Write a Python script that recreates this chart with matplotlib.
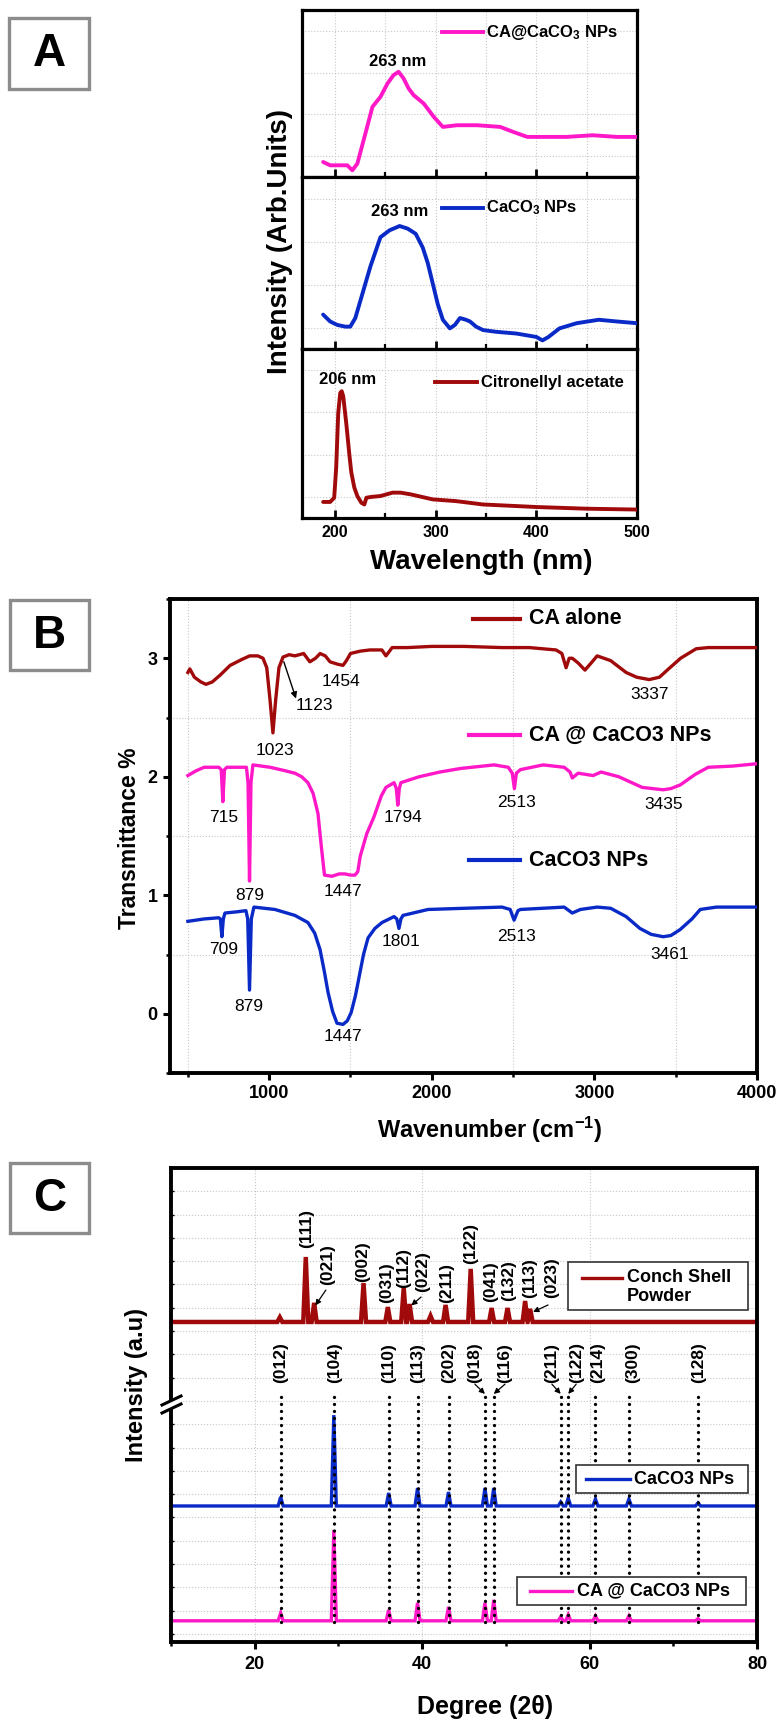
import matplotlib
matplotlib.use("Agg")
import matplotlib.pyplot as plt
from matplotlib.lines import Line2D
from matplotlib.patches import Rectangle, Polygon

plt.rcParams["font.family"] = ["Liberation Sans", "DejaVu Sans"]
plt.rcParams["mathtext.fontset"] = "custom"
plt.rcParams["mathtext.rm"] = "Liberation Sans"
plt.rcParams["mathtext.bf"] = "Liberation Sans:bold"
plt.rcParams["mathtext.it"] = "Liberation Sans:italic"

# ---------------- Panel A : UV-Vis ----------------
uv_wl_hyb = [188, 195, 205, 212, 217, 222, 230, 237, 245, 252, 258, 263, 268, 273, 278, 288, 298, 307, 321, 341,
             364, 377, 391, 410, 430, 456, 480, 500]
uv_hyb = [0.09, 0.07, 0.07, 0.07, 0.04, 0.08, 0.26, 0.42, 0.48, 0.56, 0.61, 0.63, 0.59, 0.53, 0.49, 0.44, 0.36, 0.30,
          0.31, 0.31, 0.30, 0.27, 0.24, 0.24, 0.24, 0.25, 0.24, 0.24]
uv_wl_caco3 = [188, 195, 202, 210, 215, 220, 225, 235, 245, 254, 264, 272, 280, 287, 292, 297, 302, 307, 314, 319,
               324, 330, 334, 340, 347, 360, 380, 400, 406, 412, 423, 440, 462, 480, 500]
uv_caco3 = [0.20, 0.16, 0.14, 0.13, 0.13, 0.18, 0.28, 0.48, 0.65, 0.69, 0.715, 0.70, 0.67, 0.59, 0.50, 0.38, 0.26,
            0.17, 0.12, 0.14, 0.18, 0.17, 0.16, 0.13, 0.11, 0.10, 0.09, 0.07, 0.05, 0.07, 0.12, 0.15, 0.17, 0.16, 0.15]
uv_wl_ca = [188, 195, 199, 201, 203, 205, 206.5, 208, 211, 214, 216, 219, 222, 226, 229, 231, 236, 245, 257, 265,
            275, 297, 320, 347, 400, 450, 500]
uv_ca = [0.095, 0.095, 0.12, 0.30, 0.62, 0.74, 0.75, 0.72, 0.56, 0.38, 0.27, 0.18, 0.13, 0.09, 0.08, 0.12, 0.125,
         0.13, 0.15, 0.15, 0.14, 0.11, 0.10, 0.08, 0.065, 0.055, 0.05]
uv_names = ["CA@CaCO$_\\mathbf{3}$ NPs", "CaCO$_\\mathbf{3}$ NPs", "Citronellyl acetate"]
uv_peaks = ["263 nm", "263 nm", "206 nm"]
uv_ticks = [200, 300, 400, 500]

# ---------------- Panel B : FTIR ----------------
wn_ca = [500, 512, 540, 580, 611, 650, 700, 760, 832, 880, 930, 962, 985, 1005, 1023, 1040, 1060, 1085, 1123, 1158,
         1212, 1250, 1285, 1313, 1345, 1374, 1420, 1454, 1475, 1500, 1560, 1619, 1693, 1718, 1740, 1756, 1850, 2000,
         2200, 2432, 2600, 2764, 2800, 2826, 2845, 2864, 2900, 2942, 2980, 3017, 3100, 3195, 3260, 3337, 3400, 3448,
         3530, 3626, 3700, 3800, 4000]
tr_ca = [2.88, 2.91, 2.84, 2.80, 2.78, 2.80, 2.86, 2.94, 2.99, 3.02, 3.02, 3.0, 2.92, 2.65, 2.37, 2.65, 2.92, 3.01,
         3.03, 3.02, 3.04, 2.97, 3.0, 3.04, 3.02, 2.97, 2.95, 2.94, 2.98, 3.04, 3.06, 3.07, 3.07, 3.02, 3.06, 3.09,
         3.09, 3.10, 3.10, 3.09, 3.09, 3.07, 3.04, 2.92, 3.0, 3.0, 2.96, 2.90, 2.96, 3.02, 2.98, 2.88, 2.84, 2.82,
         2.84, 2.90, 3.0, 3.08, 3.09, 3.09, 3.09]
wn_hyb = [500, 550, 600, 690, 705, 715, 725, 740, 800, 860, 870, 879, 888, 900, 1006, 1100, 1158, 1200, 1238, 1270,
          1300, 1320, 1340, 1386, 1430, 1466, 1500, 1528, 1545, 1560, 1600, 1644, 1690, 1718, 1768, 1782, 1791, 1800,
          1810, 1922, 2050, 2178, 2383, 2470, 2495, 2508, 2520, 2545, 2685, 2814, 2850, 2864, 2900, 2992, 3041, 3150,
          3294, 3423, 3470, 3527, 3620, 3700, 3850, 4000]
tr_hyb = [2.01, 2.05, 2.08, 2.08, 2.06, 1.79, 2.06, 2.08, 2.08, 2.08, 1.95, 1.12, 1.95, 2.10, 2.08, 2.05, 2.03, 2.0,
          1.95, 1.86, 1.69, 1.42, 1.17, 1.16, 1.18, 1.18, 1.17, 1.17, 1.2, 1.33, 1.52, 1.66, 1.84, 1.91, 1.95, 1.9,
          1.76, 1.9, 1.95, 2.0, 2.04, 2.07, 2.10, 2.08, 2.03, 1.90, 2.03, 2.06, 2.10, 2.08, 2.04, 1.99, 2.03, 2.01,
          2.04, 2.0, 1.91, 1.89, 1.9, 1.93, 2.02, 2.08, 2.09, 2.11]
wn_caco3 = [500, 600, 690, 700, 709, 718, 728, 800, 857, 868, 879, 890, 906, 1035, 1158, 1238, 1280, 1313, 1340,
            1362, 1390, 1417, 1454, 1480, 1504, 1530, 1553, 1580, 1608, 1650, 1694, 1768, 1785, 1798, 1810, 1823,
            1977, 2200, 2432, 2482, 2506, 2530, 2545, 2814, 2864, 2914, 3017, 3100, 3195, 3280, 3349, 3423, 3470,
            3527, 3600, 3651, 3750, 4000]
tr_caco3 = [0.78, 0.80, 0.81, 0.80, 0.65, 0.80, 0.85, 0.86, 0.87, 0.80, 0.20, 0.80, 0.90, 0.88, 0.83, 0.77, 0.68,
            0.54, 0.35, 0.18, 0.02, -0.08, -0.09, -0.06, 0.01, 0.15, 0.31, 0.50, 0.64, 0.72, 0.77, 0.82, 0.80, 0.72,
            0.80, 0.83, 0.88, 0.89, 0.90, 0.88, 0.79, 0.87, 0.88, 0.90, 0.85, 0.88, 0.90, 0.89, 0.82, 0.72, 0.67,
            0.65, 0.66, 0.71, 0.80, 0.88, 0.90, 0.90]
ir_names = ["CA alone", "CA @ CaCO3 NPs", "CaCO3 NPs"]
ir_lab_ca = ["1023", "1123", "1454", "3337"]
ir_lab_hyb = ["715", "879", "1447", "1794", "2513", "3435"]
ir_lab_caco3 = ["709", "879", "1447", "1801", "2513", "3461"]

# ---------------- Panel C : XRD ----------------
conch_base = 13.39
conch_pos = [23.0, 26.1, 27.1, 33.0, 35.9, 37.8, 38.5, 41.0, 42.8, 45.8, 48.3, 50.2, 52.3, 52.9]
conch_h = [0.2, 2.79, 0.82, 1.67, 0.64, 1.46, 0.77, 0.26, 0.73, 2.28, 0.60, 0.60, 0.90, 0.56]
conch_hkl = ["(111)", "(021)", "(002)", "(031)", "(112)", "(022)", "(211)", "(122)", "(041)", "(132)", "(113)", "(023)"]
calc_base_np = 5.49
calc_base_hyb = 0.56
calc_pos = [23.1, 29.45, 36.0, 39.45, 43.15, 47.5, 48.55, 56.55, 57.45, 60.7, 64.7, 72.95]
calc_h_np = [0.39, 3.9, 0.56, 0.77, 0.6, 0.77, 0.77, 0.17, 0.34, 0.3, 0.3, 0.13]
calc_h_hyb = [0.34, 3.9, 0.47, 0.77, 0.6, 0.77, 0.9, 0.17, 0.26, 0.21, 0.21, 0.09]
calc_hkl = ["(012)", "(104)", "(110)", "(113)", "(202)", "(018)", "(116)", "(211)", "(122)", "(214)", "(300)", "(128)"]
xrd_names = ["Conch Shell\nPowder", "CaCO3 NPs", "CA @ CaCO3 NPs"]

RED = "#A00A0A"
PINK = "#FF18C8"
BLUE = "#0A2AC8"
GRID = "#c8c8c8"

W, H = 779, 1720
fig = plt.figure(figsize=(W / 100, H / 100), dpi=100)


def px_ax(l, t, r, b):
    return fig.add_axes([l / W, 1 - b / H, (r - l) / W, (b - t) / H])


def ftext(x, y, s, **kw):
    return fig.text(x / W, 1 - y / H, s, **kw)


def fseg(xs, ys, **kw):
    fig.add_artist(Line2D([v / W for v in xs], [1 - v / H for v in ys], transform=fig.transFigure, **kw))


def fbox(l, t, r, b, **kw):
    fig.add_artist(Rectangle((l / W, 1 - b / H), (r - l) / W, (b - t) / H, transform=fig.transFigure, **kw))


# panel letter boxes
for (l, t, r, b, s) in [(9, 18, 89, 89, "A"), (10, 600, 89, 670, "B"), (10, 1163, 89, 1233, "C")]:
    fbox(l, t, r, b, fc="white", ec="#8c8c8c", lw=2.4)
    ftext((l + r) / 2, (t + b) / 2 + 1, s, fontsize=33, fontweight="bold", ha="center", va="center")

# ================= Panel A =================
A_rows = [(10, 177), (177, 349), (349, 518)]
uv_sets = [(uv_wl_hyb, uv_hyb, PINK), (uv_wl_caco3, uv_caco3, BLUE), (uv_wl_ca, uv_ca, RED)]
for k, ((t, b), (wl, iv, col)) in enumerate(zip(A_rows, uv_sets)):
    ax = px_ax(302, t, 637, b)
    ax.plot(wl, iv, color=col, lw=2.8, solid_joinstyle="round", solid_capstyle="round", zorder=3)
    ax.set_xlim(167, 500)
    ax.set_ylim(0, 1)
    ax.set_xticks(uv_ticks)
    ax.set_xticks([250, 350, 450], minor=True)
    ax.set_yticks([0.125, 0.375, 0.625, 0.875])
    ax.tick_params(axis="x", which="major", direction="in", length=6, width=2, labelsize=11.5, pad=5)
    ax.tick_params(axis="x", which="minor", direction="in", length=3.5, width=1.6)
    ax.tick_params(axis="y", length=0, labelleft=False)
    ax.grid(True, axis="x", which="both", ls=":", lw=0.8, color=GRID)
    ax.grid(True, axis="y", which="major", ls=":", lw=0.8, color=GRID)
    for sp in ax.spines.values():
        sp.set_linewidth(2.3)
    if k < 2:
        ax.tick_params(axis="x", labelbottom=False)
    else:
        ax.set_xticklabels([str(v) for v in uv_ticks], fontweight="bold")

# A legends & peak notes
for (x1, x2, y, xt), name, col in zip([(442, 483, 32, 486), (442, 483, 208, 486), (435, 477, 382, 481)],
                                      uv_names, [PINK, BLUE, RED]):
    fseg([x1, x2], [y, y], color=col, lw=2.8)
    ftext(xt, y, name, fontsize=12, fontweight="bold", va="center", ha="left")
for (x, y), s in zip([(398, 62), (400, 212), (348, 380)], uv_peaks):
    ftext(x, y, s, fontsize=12, fontweight="bold", ha="center", va="center")
ftext(280, 242, "Intensity (Arb.Units)", fontsize=20, fontweight="bold", rotation=90, ha="center", va="center")
ftext(481, 562, "Wavelength (nm)", fontsize=20, fontweight="bold", ha="center", va="center")

# ================= Panel B =================
axB = px_ax(170, 599, 757, 1073)
for wn, tr, col in [(wn_ca, tr_ca, RED), (wn_hyb, tr_hyb, PINK), (wn_caco3, tr_caco3, BLUE)]:
    axB.plot(wn, tr, color=col, lw=2.4, solid_joinstyle="round", zorder=3)
axB.set_xlim(390, 4000)
axB.set_ylim(-0.5, 3.5)
axB.set_xticks([1000, 2000, 3000, 4000])
axB.set_xticks([500, 1500, 2500, 3500], minor=True)
axB.set_yticks([0, 1, 2, 3])
axB.set_yticks([-0.5, 0.5, 1.5, 2.5, 3.5], minor=True)
axB.tick_params(which="major", direction="out", length=5, width=2.2, labelsize=13, pad=4)
axB.tick_params(which="minor", direction="out", length=3, width=1.8)
axB.grid(True, which="minor", ls=":", lw=0.8, color=GRID)
for lab in axB.get_xticklabels() + axB.get_yticklabels():
    lab.set_fontweight("bold")
for sp in axB.spines.values():
    sp.set_linewidth(2.8)

lab_kw = dict(fontsize=12.5, ha="center", va="center")
for (x, y), s in zip([(1035, 2.22), (1275, 2.60), (1443, 2.80), (3337, 2.69)], ir_lab_ca):
    axB.text(x, y, s, **lab_kw)
for (x, y), s in zip([(720, 1.66), (882, 1.00), (1454, 1.03), (1823, 1.66), (2520, 1.78), (3423, 1.77)], ir_lab_hyb):
    axB.text(x, y, s, **lab_kw)
for (x, y), s in zip([(720, 0.54), (875, 0.06), (1454, -0.19), (1810, 0.61), (2520, 0.65), (3460, 0.50)],
                     ir_lab_caco3):
    axB.text(x, y, s, **lab_kw)
axB.annotate("", xy=(1165, 2.66), xytext=(1090, 2.97),
             arrowprops=dict(arrowstyle="-|>", color="k", lw=1.0, mutation_scale=9, shrinkA=0, shrinkB=0))

for (x1, x2, y), name, col in zip([(473, 520, 619), (469, 520, 735), (469, 520, 860)], ir_names, [RED, PINK, BLUE]):
    fseg([x1, x2], [y, y], color=col, lw=3.0)
    ftext(529, y, name, fontsize=15.5, fontweight="bold", va="center", ha="left")
ftext(129, 838, "Transmittance %", fontsize=16.5, fontweight="bold", rotation=90, ha="center", va="center")
ftext(490, 1130, "Wavenumber (cm$^{\\mathbf{-1}}$)", fontsize=17, fontweight="bold", ha="center", va="center")

# ================= Panel C =================
axC = px_ax(171, 1168, 757, 1642)


def xrd_trace(base, pos, hts, hw=0.3):
    xs, ys = [10.0], [base]
    for p, h in sorted(zip(pos, hts)):
        xs += [p - hw, p, p + hw]
        ys += [base, base + h, base]
    xs.append(80.0)
    ys.append(base)
    return xs, ys


for base, pos, hts, col, lw in [(conch_base, conch_pos, conch_h, RED, 3.2),
                                (calc_base_np, calc_pos, calc_h_np, BLUE, 2.4),
                                (calc_base_hyb, calc_pos, calc_h_hyb, PINK, 2.4)]:
    xs, ys = xrd_trace(base, pos, hts)
    axC.plot(xs, ys, color=col, lw=lw, solid_joinstyle="miter", zorder=2)

vl = axC.vlines(calc_pos, 0.5, 10.34, colors="k", linestyles=(0, (0.01, 2.1)), lw=2.4, zorder=4)
vl.set_capstyle("round")

calc_label_x = [23.1, 29.6, 36.0, 39.5, 43.2, 46.3, 49.9, 55.5, 58.4, 61.0, 65.1, 73.0]
for x, s in zip(calc_label_x, calc_hkl):
    axC.text(x, 11.63, s, rotation=90, fontsize=12.5, fontweight="bold", ha="center", va="center")
for lx, tx in [(46.3, 47.5), (49.9, 48.55), (55.5, 56.55), (58.4, 57.45)]:
    axC.annotate("", xy=(tx, 10.3), xytext=(lx, 10.72),
                 arrowprops=dict(arrowstyle="-|>", color="k", lw=0.9, mutation_scale=8, shrinkA=0, shrinkB=0))

conch_lab_xy = [(26.25, 17.42), (28.76, 15.84), (32.94, 15.97), (35.81, 15.06), (37.84, 15.71), (40.11, 15.54),
                (42.97, 15.06), (45.84, 16.74), (48.23, 15.11), (50.38, 15.15), (52.89, 15.28), (55.52, 15.28)]
for (x, y), s in zip(conch_lab_xy, conch_hkl):
    axC.text(x, y, s, rotation=90, fontsize=12.5, fontweight="bold", ha="center", va="center")
for (x0, y0), (x1, y1) in [((28.5, 14.76), (27.25, 14.1)), ((39.87, 14.46), (38.7, 14.1)),
                           ((55.04, 14.12), (53.25, 13.82))]:
    axC.annotate("", xy=(x1, y1), xytext=(x0, y0),
                 arrowprops=dict(arrowstyle="-|>", color="k", lw=0.9, mutation_scale=8, shrinkA=0, shrinkB=0))

axC.set_xlim(10, 80)
axC.set_ylim(-0.35, 20)
axC.set_xticks([20, 40, 60, 80])
axC.set_xticks([10, 30, 50, 70], minor=True)
axC.set_yticks(list(range(0, 20)))
axC.tick_params(axis="x", which="major", direction="out", length=5, width=2.2, labelsize=13, pad=5)
axC.tick_params(axis="x", which="minor", direction="out", length=3, width=1.8)
axC.tick_params(axis="y", direction="in", length=2.5, width=1, labelleft=False)
axC.grid(True, axis="x", which="major", ls=":", lw=0.8, color=GRID)
axC.grid(True, axis="y", which="major", ls=":", lw=0.8, color=GRID)
for lab in axC.get_xticklabels():
    lab.set_fontweight("bold")
for sp in axC.spines.values():
    sp.set_linewidth(2.8)

# XRD legends (boxed)
for (l, t, r, b, x1, x2, yl, yt, xt), name, col in zip(
        [(568, 1262, 748, 1310, 582, 622, 1278, 1287, 627), (576, 1465, 748, 1493, 586, 630, 1479, 1479, 634),
         (517, 1577, 746, 1605, 530, 572, 1591, 1591, 577)], xrd_names, [RED, BLUE, PINK]):
    fbox(l, t, r, b, fc="white", ec="#333333", lw=1.2, zorder=5)
    fseg([x1, x2], [yl, yl], color=col, lw=2.4, zorder=6)
    ftext(xt, yt, name, fontsize=13, fontweight="bold", va="center", ha="left", zorder=6, linespacing=1.15)

# axis break mark on the left spine
fig.add_artist(Polygon([(162 / W, 1 - 1405 / H), (181 / W, 1 - 1396 / H), (181 / W, 1 - 1404 / H),
                        (162 / W, 1 - 1413 / H)], closed=True, fc="white", ec="none", transform=fig.transFigure))
fseg([162, 181], [1405, 1396], color="k", lw=2.2)
fseg([162, 181], [1413, 1404], color="k", lw=2.2)

ftext(137, 1385, "Intensity (a.u)", fontsize=17, fontweight="bold", rotation=90, ha="center", va="center")
ftext(485, 1707, "Degree (2θ)", fontsize=18, fontweight="bold", ha="center", va="center")

fig.savefig("out.png", dpi=100)
